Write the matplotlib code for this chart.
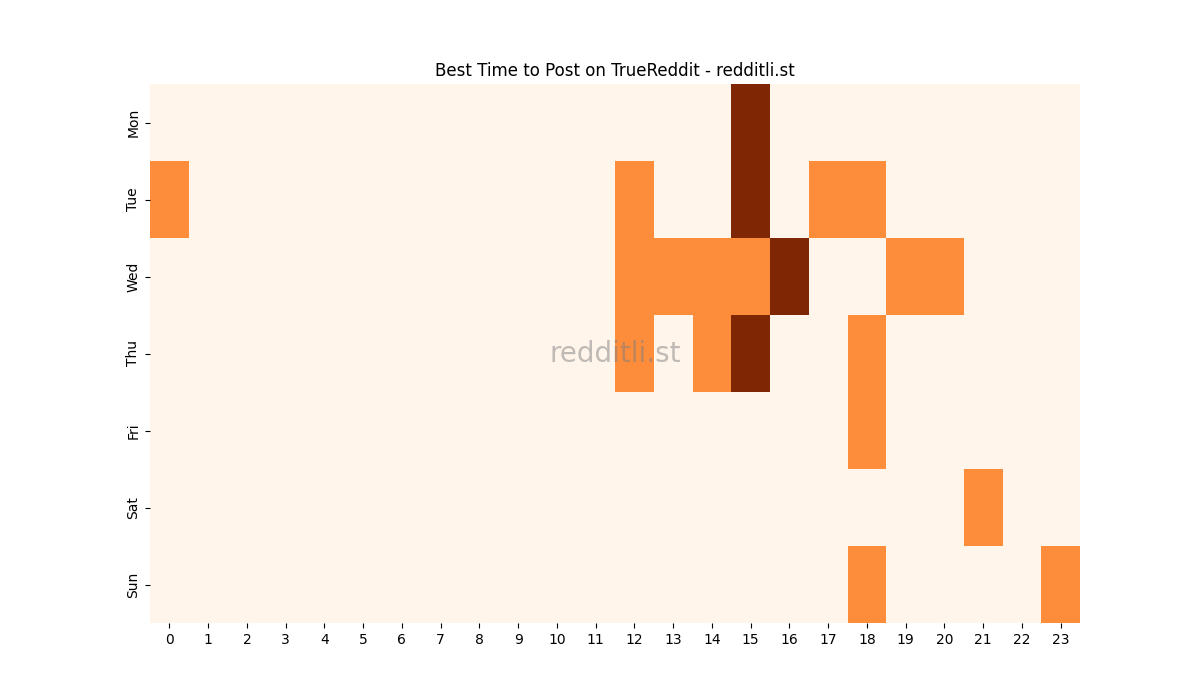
import matplotlib
matplotlib.use("Agg")
import matplotlib.pyplot as plt
import seaborn as sns
import numpy as np

days = ["Mon", "Tue", "Wed", "Thu", "Fri", "Sat", "Sun"]
hours = list(range(24))
# (day, hour, level) non-zero cells
mon = {15: 2}
tue = {0: 1, 12: 1, 15: 2, 17: 1, 18: 1}
wed = {12: 1, 13: 1, 14: 1, 15: 1, 16: 2, 19: 1, 20: 1}
thu = {12: 1, 14: 1, 15: 2, 18: 1}
fri = {18: 1}
sat = {21: 1}
sun = {18: 1, 23: 1}
rows = [mon, tue, wed, thu, fri, sat, sun]

data = np.zeros((len(days), len(hours)))
for i, r in enumerate(rows):
    for h, v in r.items():
        data[i, h] = v

fig, ax = plt.subplots(figsize=(12, 7), dpi=100)
sns.heatmap(data, cmap="Oranges", cbar=False, ax=ax,
            xticklabels=hours, yticklabels=days)
ax.set_title("Best Time to Post on TrueReddit - redditli.st")
ax.text(0.5, 0.5, "redditli.st", transform=ax.transAxes, ha="center",
        va="center", fontsize=20, color="grey", alpha=0.5)
fig.savefig("out.png")
